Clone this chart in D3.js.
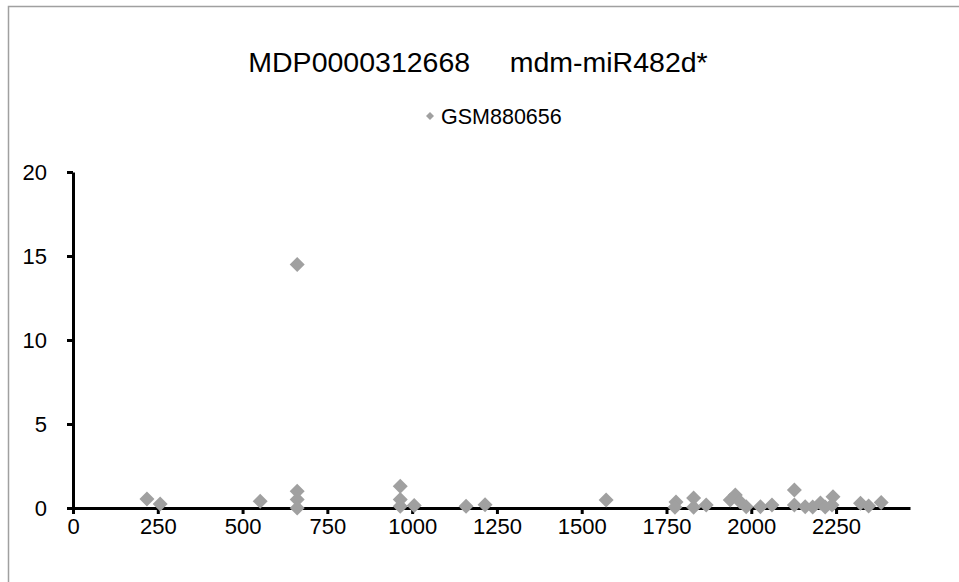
<!DOCTYPE html>
<html><head><meta charset="utf-8">
<script src="https://cdn.jsdelivr.net/npm/d3@7"></script>
<style>body{margin:0;background:#fff}svg{display:block}text{font-family:"Liberation Sans",Arial,sans-serif}</style>
</head><body><svg id="c" width="959" height="582"></svg>
<script>
const titleText = "MDP0000312668     mdm-miR482d*";
const seriesName = "GSM880656";
const xValues = [218,257,552,661,661,661,661,965,965,965,1006,1159,1215,1572,1778,1775,1830,1830,1867,1938,1953,1967,1985,2027,2061,2127,2127,2159,2181,2204,2218,2241,2238,2322,2346,2383];
const yValues = [0.54,0.24,0.4,14.5,1.0,0.5,0.0,1.3,0.5,0.1,0.15,0.1,0.2,0.48,0.35,0.05,0.6,0.05,0.18,0.48,0.77,0.37,0.08,0.08,0.18,1.07,0.18,0.08,0.06,0.3,0.06,0.67,0.18,0.28,0.12,0.32];
const xTicks = [0,250,500,750,1000,1250,1500,1750,2000,2250];
const yTicks = [0,5,10,15,20];

const svg = d3.select("#c");
svg.append("rect").attr("x",8.5).attr("y",6.5).attr("width",960).attr("height",590)
  .attr("fill","#fff").attr("stroke","#a0a0a0").attr("stroke-width",1.5);

const x = d3.scaleLinear().domain([0,2468]).range([73,910]);
const y = d3.scaleLinear().domain([0,20]).range([508,172]);
const dia = (r)=>`M0,${-r}L${r},0L0,${r}L${-r},0Z`;

svg.append("text").attr("x",478).attr("y",72).attr("text-anchor","middle")
  .attr("font-size",28.5).style("white-space","pre").text(titleText);

// legend
svg.append("path").attr("d",dia(4)).attr("transform","translate(430,116)").attr("fill","#a0a0a0");
svg.append("text").attr("x",441).attr("y",124).attr("font-size",21.5).text(seriesName);

const fmt = d3.format("d");
const xAxis = svg.append("g").attr("transform","translate(0,508)")
  .call(d3.axisBottom(x).tickValues(xTicks).tickFormat(fmt).tickSize(6).tickSizeOuter(0).tickPadding(4));
const yAxis = svg.append("g").attr("transform","translate(73,0)")
  .call(d3.axisLeft(y).tickValues(yTicks).tickFormat(fmt).tickSize(6).tickSizeOuter(0).tickPadding(20));
[xAxis,yAxis].forEach(g=>{
  g.select(".domain").attr("stroke","#000").attr("stroke-width",3);
  g.selectAll(".tick line").attr("stroke","#000").attr("stroke-width",3);
  g.selectAll(".tick text").attr("font-size",22).attr("fill","#000")
    .style("font-family","'Liberation Sans',Arial,sans-serif");
});

svg.append("g").selectAll("path").data(xValues.map((v,i)=>[v,yValues[i]])).join("path")
  .attr("d",dia(7.5)).attr("fill","#a0a0a0")
  .attr("transform",d=>`translate(${x(d[0])},${y(d[1])})`);
</script></body></html>
